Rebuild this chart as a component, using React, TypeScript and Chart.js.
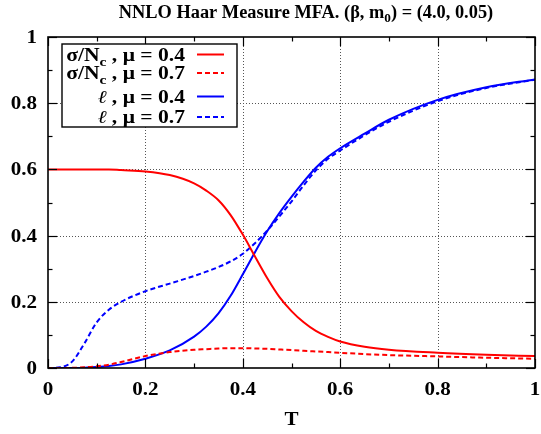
import React, { useEffect, useRef } from 'react';
import { Chart, registerables } from 'chart.js';
Chart.register(...registerables);

// ---- data ----
const T = [0, 0.025, 0.05, 0.075, 0.1, 0.125, 0.15, 0.2, 0.25, 0.3, 0.325, 0.35, 0.375, 0.4, 0.425, 0.45, 0.475, 0.5, 0.525, 0.55, 0.575, 0.6, 0.65, 0.7, 0.8, 0.9, 1.0];
const sigmaMu04 = [0.6, 0.6, 0.6, 0.6, 0.6, 0.6, 0.598, 0.594, 0.583, 0.558, 0.536, 0.507, 0.462, 0.403, 0.337, 0.272, 0.215, 0.172, 0.138, 0.112, 0.094, 0.08, 0.064, 0.055, 0.046, 0.04, 0.036];
const sigmaMu07 = [0, 0, 0.0005, 0.002, 0.005, 0.01, 0.018, 0.036, 0.048, 0.055, 0.057, 0.059, 0.06, 0.06, 0.059, 0.058, 0.056, 0.054, 0.052, 0.05, 0.048, 0.046, 0.042, 0.039, 0.035, 0.031, 0.028];
const ellMu04 = [0, 0, 0, 0.001, 0.003, 0.006, 0.011, 0.028, 0.053, 0.095, 0.125, 0.165, 0.218, 0.283, 0.35, 0.413, 0.468, 0.517, 0.563, 0.605, 0.638, 0.664, 0.708, 0.75, 0.81, 0.848, 0.872];
const ellMu07 = [0, 0.002, 0.02, 0.075, 0.138, 0.176, 0.2, 0.232, 0.255, 0.278, 0.291, 0.305, 0.322, 0.345, 0.377, 0.415, 0.458, 0.503, 0.552, 0.597, 0.632, 0.657, 0.703, 0.744, 0.806, 0.846, 0.871];
const tickLabels = ['0', '0.2', '0.4', '0.6', '0.8', '1'];
const legendLabels = [
  { sym: 'σ/N', sub: 'c', rest: ' , μ = 0.4' },
  { sym: 'σ/N', sub: 'c', rest: ' , μ = 0.7' },
  { sym: 'ℓ', sub: '', rest: ' , μ = 0.4' },
  { sym: 'ℓ', sub: '', rest: ' , μ = 0.7' },
];
const titleParts = ['NNLO Haar Measure MFA. (β, m', '0', ') = (4.0, 0.05)'];
const xTitle = 'T';

const RED = '#ff0000';
const BLUE = '#0000ff';
const SERIF = '"Liberation Serif", "Times New Roman", serif';
const FONT = (size: number, extra = 'bold') => `${extra} ${size}px ${SERIF}`;

type Part = { t: string; font: string; dy: number };

// draw a run of text parts, horizontally stretched by sx, aligned at x
function drawRun(ctx: CanvasRenderingContext2D, parts: Part[], x: number, y: number, align: 'left' | 'center' | 'right', sx: number) {
  ctx.save();
  ctx.textAlign = 'left';
  let w = 0;
  const ws = parts.map((p) => { ctx.font = p.font; const m = ctx.measureText(p.t).width; w += m; return m; });
  const total = w * sx;
  const start = align === 'left' ? x : align === 'center' ? x - total / 2 : x - total;
  ctx.translate(start, y);
  ctx.scale(sx, 1);
  let cx = 0;
  parts.forEach((p, i) => { ctx.font = p.font; ctx.fillText(p.t, cx, p.dy); cx += ws[i]; });
  ctx.restore();
}

const decorPlugin = {
  id: 'decor',
  beforeDatasetsDraw(chart: any) {
    const { ctx, chartArea: a, scales } = chart;
    const xs = scales.x, ys = scales.y;
    ctx.save();
    ctx.strokeStyle = '#555';
    ctx.lineWidth = 1;
    ctx.setLineDash([1, 2]);
    for (let i = 1; i < 5; i++) {
      const v = i * 0.2;
      const px = Math.round(xs.getPixelForValue(v)) + 0.5;
      ctx.beginPath(); ctx.moveTo(px, a.top); ctx.lineTo(px, a.bottom); ctx.stroke();
      const py = Math.round(ys.getPixelForValue(v)) + 0.5;
      ctx.beginPath(); ctx.moveTo(a.left, py); ctx.lineTo(a.right, py); ctx.stroke();
    }
    ctx.restore();
  },
  afterDatasetsDraw(chart: any) {
    const { ctx, chartArea: a, scales } = chart;
    const xs = scales.x, ys = scales.y;
    ctx.save();
    ctx.setLineDash([]);
    ctx.strokeStyle = '#000';
    ctx.lineWidth = 1.2;
    for (let i = 0; i <= 10; i++) {
      const v = i / 10;
      const L = i % 2 === 0 ? 9 : 4.5;
      const px = Math.round(xs.getPixelForValue(v)) + 0.5;
      ctx.beginPath(); ctx.moveTo(px, a.bottom); ctx.lineTo(px, a.bottom - L); ctx.stroke();
      ctx.beginPath(); ctx.moveTo(px, a.top); ctx.lineTo(px, a.top + L); ctx.stroke();
      const py = Math.round(ys.getPixelForValue(v)) + 0.5;
      ctx.beginPath(); ctx.moveTo(a.left, py); ctx.lineTo(a.left + L, py); ctx.stroke();
      ctx.beginPath(); ctx.moveTo(a.right, py); ctx.lineTo(a.right - L, py); ctx.stroke();
    }
    ctx.lineWidth = 1.6;
    ctx.strokeRect(a.left, a.top, a.right - a.left, a.bottom - a.top);

    // tick labels from the library's scale ticks
    ctx.fillStyle = '#000';
    ctx.textBaseline = 'alphabetic';
    xs.ticks.forEach((t: any, i: number) => {
      drawRun(ctx, [{ t: tickLabels[i], font: FONT(18), dy: 0 }], xs.getPixelForValue(t.value), 395, 'center', 1.17);
    });
    ys.ticks.forEach((t: any, i: number) => {
      drawRun(ctx, [{ t: tickLabels[i], font: FONT(18), dy: 0 }], 37, ys.getPixelForValue(t.value) + 6, 'right', 1.17);
    });

    // legend
    const lx = 62, ly = 44, lw = 175, lh = 83;
    ctx.fillStyle = '#fff';
    ctx.fillRect(lx, ly, lw, lh);
    ctx.lineWidth = 1.4;
    ctx.strokeStyle = '#000';
    ctx.strokeRect(lx, ly, lw, lh);
    const rowY = [54.5, 73, 96.5, 117];
    const styles = [
      { c: RED, d: [] as number[] },
      { c: RED, d: [5, 3] },
      { c: BLUE, d: [] as number[] },
      { c: BLUE, d: [5, 3] },
    ];
    legendLabels.forEach((lab, i) => {
      const base = rowY[i] + 6;
      ctx.fillStyle = '#000';
      const parts: Part[] = lab.sub
        ? [{ t: lab.sym, font: FONT(18), dy: 0 }, { t: lab.sub, font: FONT(13), dy: 5 }, { t: lab.rest, font: FONT(18), dy: 0 }]
        : [{ t: lab.sym, font: FONT(18, 'italic'), dy: 0 }, { t: lab.rest, font: FONT(18), dy: 0 }];
      drawRun(ctx, parts, 185, base, 'right', 1.2);
      ctx.strokeStyle = styles[i].c;
      ctx.lineWidth = 2;
      ctx.setLineDash(styles[i].d);
      ctx.beginPath(); ctx.moveTo(197, rowY[i]); ctx.lineTo(224, rowY[i]); ctx.stroke();
      ctx.setLineDash([]);
    });

    // title
    ctx.fillStyle = '#000';
    drawRun(ctx, [
      { t: titleParts[0], font: FONT(18), dy: 0 },
      { t: titleParts[1], font: FONT(13), dy: 4 },
      { t: titleParts[2], font: FONT(18), dy: 0 },
    ], 306, 18, 'center', 1.02);

    // x title
    drawRun(ctx, [{ t: xTitle, font: FONT(18), dy: 0 }], (a.left + a.right) / 2, 425, 'center', 1.17);
    ctx.restore();
  },
};

export default function App() {
  const ref = useRef<HTMLCanvasElement>(null);
  useEffect(() => {
    const mk = (ys: number[]) => T.map((t, i) => ({ x: t, y: ys[i] }));
    const line = (data: number[], color: string, dash: number[]) => ({
      data: mk(data),
      borderColor: color,
      borderWidth: 2,
      borderDash: dash,
      pointRadius: 0,
      fill: false,
      cubicInterpolationMode: 'monotone' as const,
    });
    const chart = new Chart(ref.current as HTMLCanvasElement, {
      type: 'line',
      data: {
        datasets: [
          line(sigmaMu04, RED, []),
          line(sigmaMu07, RED, [5, 3]),
          line(ellMu04, BLUE, []),
          line(ellMu07, BLUE, [5, 3]),
        ],
      },
      options: {
        animation: false,
        responsive: false,
        layout: { padding: { top: 37, right: 6, left: 0, bottom: 0 } },
        plugins: { legend: { display: false }, title: { display: false }, tooltip: { enabled: false } },
        scales: {
          x: {
            type: 'linear', min: 0, max: 1,
            grid: { display: false, drawTicks: false },
            border: { display: false },
            ticks: { stepSize: 0.2, display: false },
            afterFit: (s: any) => { s.height = 66; },
          },
          y: {
            type: 'linear', min: 0, max: 1,
            grid: { display: false, drawTicks: false },
            border: { display: false },
            ticks: { stepSize: 0.2, display: false },
            afterFit: (s: any) => { s.width = 48; },
          },
        },
      },
      plugins: [decorPlugin],
    });
    return () => chart.destroy();
  }, []);
  return (
    <div style={{ position: 'fixed', left: 0, top: 0, width: 541, height: 434, background: '#fff' }}>
      <canvas ref={ref} width={541} height={434} style={{ display: 'block' }} />
    </div>
  );
}
